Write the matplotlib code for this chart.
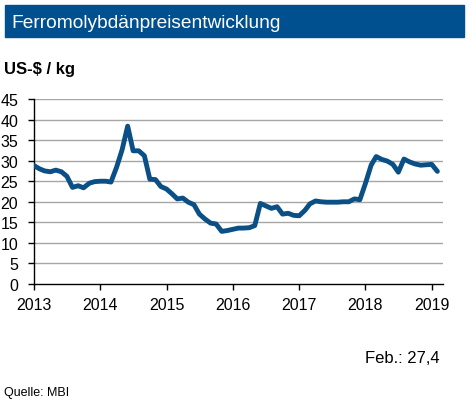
import pandas as pd
import matplotlib
matplotlib.use('Agg')
import matplotlib.pyplot as plt
from matplotlib.patches import Rectangle

plt.rcParams['font.family'] = ['Liberation Sans', 'DejaVu Sans']

# Monatswerte Ferromolybdän, US-$ / kg (Jan 2013 - Feb 2019)
prices_2013 = [28.8, 28.0, 27.5, 27.3, 27.7, 27.3, 26.2, 23.5, 23.9, 23.4, 24.5, 24.9]
prices_2014 = [25.0, 25.0, 24.8, 28.4, 32.6, 38.4, 32.4, 32.4, 31.2, 25.5, 25.4, 23.7]
prices_2015 = [23.1, 21.9, 20.7, 20.9, 19.9, 19.3, 17.0, 15.8, 14.8, 14.6, 12.8, 13.0]
prices_2016 = [13.3, 13.6, 13.6, 13.7, 14.2, 19.6, 19.0, 18.4, 18.8, 17.0, 17.2, 16.7]
prices_2017 = [16.6, 17.9, 19.5, 20.2, 20.0, 19.9, 19.9, 19.9, 20.0, 20.0, 20.7, 20.5]
prices_2018 = [24.5, 28.9, 31.0, 30.3, 29.9, 29.1, 27.2, 30.4, 29.7, 29.2, 28.9, 29.0]
prices_2019 = [29.1, 27.4]

prices = (prices_2013 + prices_2014 + prices_2015 + prices_2016
          + prices_2017 + prices_2018 + prices_2019)
months = pd.date_range('2013-01-01', periods=len(prices), freq='MS')
years = list(range(2013, 2020))
y_ticks = list(range(0, 50, 5))

blue_title = '#00508F'
blue_line = '#0A4F85'

fig = plt.figure(figsize=(4.70, 4.02), dpi=100)

# Titelbalken
fig.patches.append(Rectangle((5 / 470, 1 - 38 / 402), 459 / 470, 32 / 402,
                             transform=fig.transFigure, color=blue_title, zorder=0))
fig.text(11 / 470, 1 - 23 / 402, 'Ferromolybdänpreisentwicklung', color='white',
         fontsize=13.8, va='center', ha='left')
fig.text(4 / 470, 1 - 74 / 402, 'US-$ / kg', fontsize=12, fontweight='bold',
         va='baseline', ha='left')

ax = fig.add_axes([34 / 470, 1 - 285 / 402, 409 / 470, 185 / 402])
ax.plot(months, prices, color=blue_line, lw=3.5, solid_capstyle='round',
        solid_joinstyle='round', zorder=3)

ax.set_ylim(0, 45)
ax.set_xlim(pd.Timestamp('2013-01-01'), pd.Timestamp('2019-03-04'))
ax.set_yticks(y_ticks)
ax.set_xticks([pd.Timestamp(f'{y}-01-01') for y in years])
ax.set_xticklabels([str(y) for y in years])

for v in y_ticks[1:]:
    ax.axhline(v, color='#A6A6A6', lw=1.0, zorder=1)

for side in ['top', 'right']:
    ax.spines[side].set_visible(False)
ax.spines['left'].set_linewidth(1.0)
ax.spines['bottom'].set_linewidth(1.0)
ax.tick_params(axis='y', direction='out', length=4.5, width=1.0, pad=7,
               labelsize=11.5, colors='black')
ax.tick_params(axis='x', direction='out', length=4.5, width=1.0, pad=5,
               labelsize=11.5, colors='black')

fig.text(440 / 470, 1 - 359 / 402, 'Feb.: 27,4', fontsize=12, ha='right', va='center')
fig.text(4 / 470, 1 - 393 / 402, 'Quelle: MBI', fontsize=9, ha='left', va='center')

fig.savefig('out.png', dpi=100)
